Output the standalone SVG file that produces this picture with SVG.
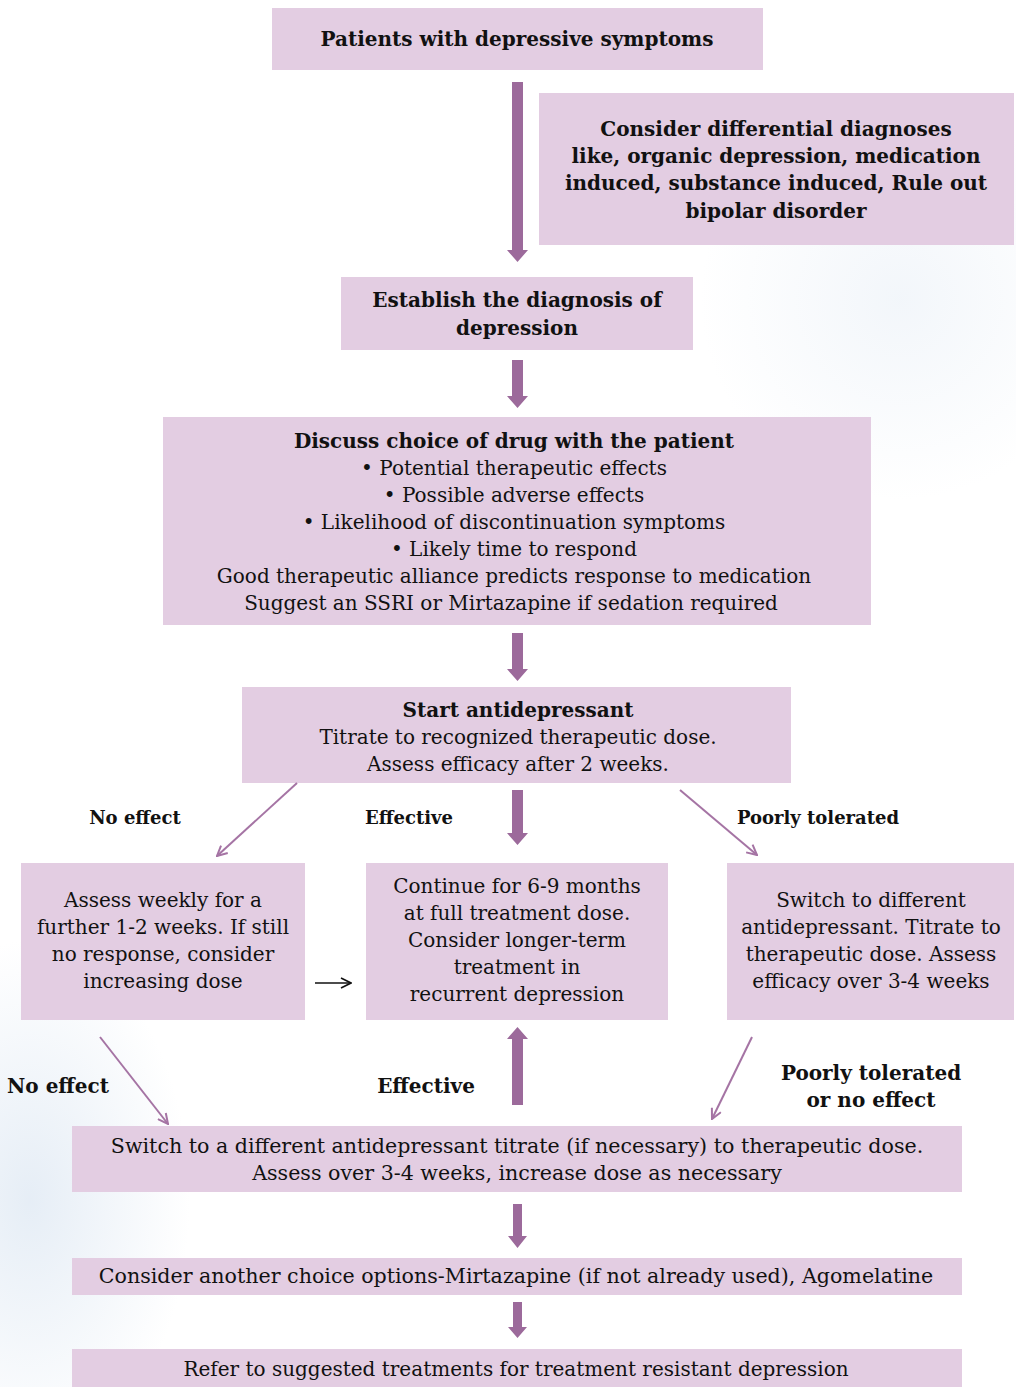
<svg xmlns="http://www.w3.org/2000/svg" width="1016" height="1387" viewBox="0 0 1016 1387">
<defs>
<style>
.box{fill:#E3CDE2}
.t{font-family:"DejaVu Serif","Liberation Serif",serif;font-size:20px;fill:#111;text-anchor:middle}
.b{font-weight:bold}
.s{font-size:18px}
.w{font-size:20.6px}
.thick{fill:#9C6A9B}
.thin{stroke:#A574A4;stroke-width:2;fill:none}
</style>
<marker id="vh" viewBox="0 0 12 12" refX="11" refY="6" markerWidth="12" markerHeight="12" markerUnits="userSpaceOnUse" orient="auto">
<path d="M1,1 L11,6 L1,11" fill="none" stroke="#A574A4" stroke-width="2"/>
</marker>
<marker id="kh" viewBox="0 0 12 12" refX="11" refY="6" markerWidth="12" markerHeight="12" markerUnits="userSpaceOnUse" orient="auto">
<path d="M1,1 L11,6 L1,11" fill="none" stroke="#111" stroke-width="1.6"/>
</marker>
<radialGradient id="bg1" cx="0.5" cy="0.5" r="0.5">
<stop offset="0" stop-color="#dbe6f2" stop-opacity="0.7"/>
<stop offset="1" stop-color="#dbe6f2" stop-opacity="0"/>
</radialGradient>
</defs>
<rect width="1016" height="1387" fill="#fff"/>
<ellipse cx="30" cy="1200" rx="160" ry="260" fill="url(#bg1)"/>
<ellipse cx="900" cy="300" rx="200" ry="200" fill="url(#bg1)" opacity="0.5"/>

<g id="n1"><rect class="box" x="272" y="8" width="491" height="62"/>
<text class="t b" x="517" y="46">Patients with depressive symptoms</text></g>

<g id="n2"><rect class="box" x="539" y="93" width="475" height="152"/>
<text class="t b" x="776" y="136">Consider differential diagnoses</text>
<text class="t b" x="776" y="163">like, organic depression, medication</text>
<text class="t b" x="776" y="190">induced, substance induced, Rule out</text>
<text class="t b" x="776" y="218">bipolar disorder</text></g>

<g id="n3"><rect class="box" x="341" y="277" width="352" height="73"/>
<text class="t b" x="517" y="307">Establish the diagnosis of</text>
<text class="t b" x="517" y="335">depression</text></g>

<g id="n4"><rect class="box" x="163" y="417" width="708" height="208"/>
<text class="t b" x="514" y="448">Discuss choice of drug with the patient</text>
<text class="t" x="514" y="475">• Potential therapeutic effects</text>
<text class="t" x="514" y="502">• Possible adverse effects</text>
<text class="t" x="514" y="529">• Likelihood of discontinuation symptoms</text>
<text class="t" x="514" y="556">• Likely time to respond</text>
<text class="t" x="514" y="583">Good therapeutic alliance predicts response to medication</text>
<text class="t" x="511" y="610">Suggest an SSRI or Mirtazapine if sedation required</text></g>

<g id="n5"><rect class="box" x="242" y="687" width="549" height="96"/>
<text class="t b" x="518" y="717">Start antidepressant</text>
<text class="t" x="518" y="744">Titrate to recognized therapeutic dose.</text>
<text class="t" x="518" y="771">Assess efficacy after 2 weeks.</text></g>

<g id="n6"><rect class="box" x="21" y="863" width="284" height="157"/>
<text class="t" x="163" y="907">Assess weekly for a</text>
<text class="t" x="163" y="934">further 1-2 weeks. If still</text>
<text class="t" x="163" y="961">no response, consider</text>
<text class="t" x="163" y="988">increasing dose</text></g>

<g id="n7"><rect class="box" x="366" y="863" width="302" height="157"/>
<text class="t" x="517" y="893">Continue for 6-9 months</text>
<text class="t" x="517" y="920">at full treatment dose.</text>
<text class="t" x="517" y="947">Consider longer-term</text>
<text class="t" x="517" y="974">treatment in</text>
<text class="t" x="517" y="1001">recurrent depression</text></g>

<g id="n8"><rect class="box" x="727" y="863" width="287" height="157"/>
<text class="t" x="871" y="907">Switch to different</text>
<text class="t" x="871" y="934">antidepressant. Titrate to</text>
<text class="t" x="871" y="961">therapeutic dose. Assess</text>
<text class="t" x="871" y="988">efficacy over 3-4 weeks</text></g>

<g id="n9"><rect class="box" x="72" y="1126" width="890" height="66"/>
<text class="t w" x="517" y="1153">Switch to a different antidepressant titrate (if necessary) to therapeutic dose.</text>
<text class="t w" x="517" y="1180">Assess over 3-4 weeks, increase dose as necessary</text></g>

<g id="n10"><rect class="box" x="72" y="1258" width="890" height="37"/>
<text class="t w" x="516" y="1283">Consider another choice options-Mirtazapine (if not already used), Agomelatine</text></g>

<g id="n11"><rect class="box" x="72" y="1349" width="890" height="40"/>
<text class="t" x="516" y="1376">Refer to suggested treatments for treatment resistant depression</text></g>

<g id="connectors">
<path class="thick" d="M512,82 H523 V250 H528 L517.5,262 L507,250 H512 Z"/>
<path class="thick" d="M512,360 H523 V396 H528 L517.5,408 L507,396 H512 Z"/>
<path class="thick" d="M512,633 H523 V669 H528 L517.5,681 L507,669 H512 Z"/>
<path class="thick" d="M512,790 H523 V833 H528 L517.5,845 L507,833 H512 Z"/>
<path class="thick" d="M512,1105 H523 V1039 H528 L517.5,1027 L507,1039 H512 Z"/>
<path class="thick" d="M513,1204 H522 V1236 H527 L517.5,1248 L508,1236 H513 Z"/>
<path class="thick" d="M513,1302 H522 V1327 H527 L517.5,1338 L508,1327 H513 Z"/>
<line class="thin" x1="297" y1="783" x2="217" y2="856" marker-end="url(#vh)"/>
<line class="thin" x1="680" y1="790" x2="757" y2="855" marker-end="url(#vh)"/>
<line class="thin" x1="100" y1="1037" x2="168" y2="1124" marker-end="url(#vh)"/>
<line class="thin" x1="752" y1="1037" x2="712" y2="1119" marker-end="url(#vh)"/>
<line x1="315" y1="983" x2="351" y2="983" stroke="#111" stroke-width="1.6" marker-end="url(#kh)"/>
</g>

<g id="labels">
<text class="t b s" x="135" y="824">No effect</text>
<text class="t b s" x="409" y="824">Effective</text>
<text class="t b s" x="818" y="824">Poorly tolerated</text>
<text class="t b" x="58" y="1093">No effect</text>
<text class="t b" x="426" y="1093">Effective</text>
<text class="t b" x="871" y="1080">Poorly tolerated</text>
<text class="t b" x="871" y="1107">or no effect</text>
</g>
</svg>
